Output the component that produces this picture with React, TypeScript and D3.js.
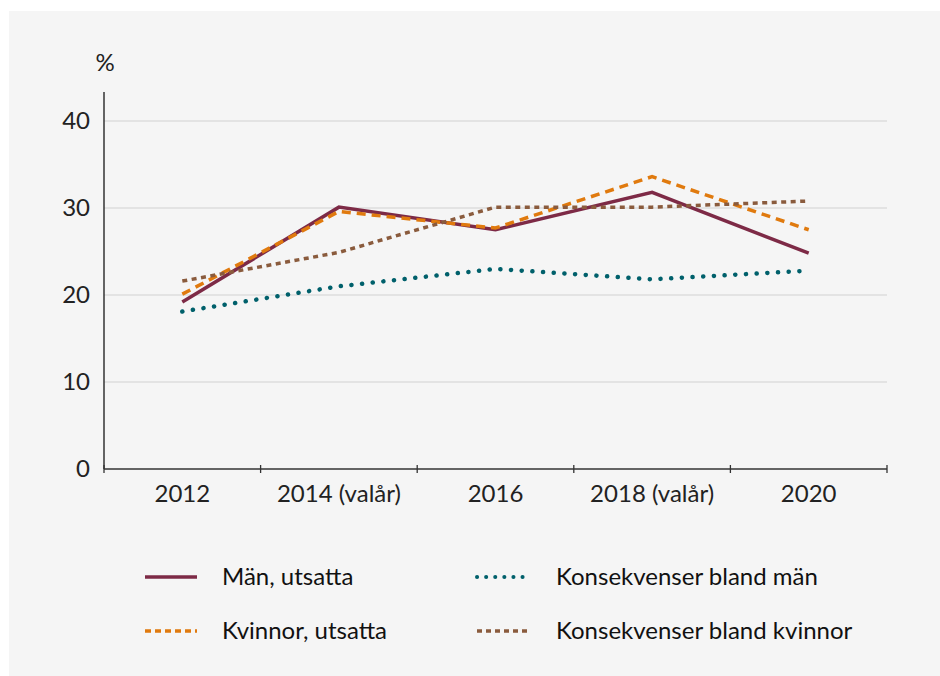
import React, { useRef, useEffect } from "react";
import * as d3 from "d3";

const years = ["2012", "2014 (valår)", "2016", "2018 (valår)", "2020"];
const menExposed = [19.2, 30.1, 27.5, 31.8, 24.8];
const womenExposed = [20.1, 29.6, 27.7, 33.6, 27.5];
const consequencesMen = [18.1, 21.0, 23.0, 21.8, 22.8];
const consequencesWomen = [21.6, 24.9, 30.1, 30.1, 30.8];
const yTicks = [0, 10, 20, 30, 40];

const series = [
  { name: "Män, utsatta", values: menExposed, color: "#7d2a46", width: 3.5, dash: null, cap: "butt", legendDash: null },
  { name: "Kvinnor, utsatta", values: womenExposed, color: "#e07a0e", width: 3.5, dash: "9 6", cap: "butt", legendDash: "6 4" },
  { name: "Konsekvenser bland män", values: consequencesMen, color: "#00606b", width: 4.5, dash: "0.1 10.6", cap: "round", legendDash: "0.1 9" },
  { name: "Konsekvenser bland kvinnor", values: consequencesWomen, color: "#8a5b3d", width: 3.5, dash: "5 4.5", cap: "butt", legendDash: "5 4" },
];

const FONT = "Lato, sans-serif";
const FS = 24;

const App = () => {
  const xAxisRef = useRef(null);
  const left = 104, right = 887, top = 92, bottom = 469;

  const x = d3.scaleBand().domain(years).range([left, right]);
  const y = d3.scaleLinear().domain([0, 40]).range([bottom, 121]);

  const line = d3.line<number>()
    .x((d, i) => x(years[i]) + x.bandwidth() / 2)
    .y(d => y(d));

  useEffect(() => {
    const g = d3.select(xAxisRef.current);
    const axis = d3.axisBottom(x).tickSize(4).tickSizeOuter(0).tickPadding(12);
    g.call(axis);
    g.select(".domain").remove();
    // ticks sit on band edges, not centres
    g.selectAll(".tick line")
      .attr("x1", x.bandwidth() / 2).attr("x2", x.bandwidth() / 2)
      .attr("y1", -4).attr("y2", 4)
      .attr("stroke", "#333").attr("stroke-width", 1.3);
    g.selectAll(".tick text")
      .attr("font-family", FONT).attr("font-size", FS).attr("fill", "#222");
  }, []);

  return (
    <svg width={940} height={676} style={{ position: "absolute", left: 0, top: 0 }}>
      <rect x={0} y={0} width={940} height={676} fill="#fff" />
      <rect x={9} y={11} width={931} height={665} fill="#f5f5f5" />

      <text x={105} y={71} textAnchor="middle" fontFamily={FONT} fontSize={FS} fill="#222">%</text>

      {yTicks.filter(t => t > 0).map(t => (
        <line key={t} x1={left} x2={right} y1={y(t)} y2={y(t)} stroke="#d2d2d2" strokeWidth={1.2} />
      ))}
      {yTicks.map(t => (
        <text key={t} x={90} y={y(t)} dy="0.35em" textAnchor="end" fontFamily={FONT} fontSize={FS} fill="#222">{t}</text>
      ))}

      <line x1={left} x2={left} y1={top} y2={bottom} stroke="#333" strokeWidth={1.5} />
      <line x1={left} x2={right} y1={bottom} y2={bottom} stroke="#333" strokeWidth={1.5} />
      <line x1={left} x2={left} y1={bottom - 4} y2={bottom + 4} stroke="#333" strokeWidth={1.3} />
      <g ref={xAxisRef} transform={`translate(0,${bottom})`} />

      {series.map(s => (
        <path key={s.name} d={line(s.values)} fill="none" stroke={s.color} strokeWidth={s.width}
          strokeDasharray={s.dash ?? undefined} strokeLinecap={s.cap} strokeLinejoin="miter" />
      ))}

      {series.map((s, i) => {
        const lx = i < 2 ? 145 : 477;
        const ly = i % 2 === 0 ? 577 : 631;
        return (
          <g key={s.name}>
            <line x1={lx} x2={lx + 52} y1={ly} y2={ly} stroke={s.color}
              strokeWidth={i === 2 ? 4 : 3.5} strokeDasharray={s.legendDash ?? undefined}
              strokeLinecap={s.cap} />
            <text x={i < 2 ? 222 : 556} y={ly} dy="0.35em" fontFamily={FONT} fontSize={FS} fill="#111">{s.name}</text>
          </g>
        );
      })}
    </svg>
  );
};

export default App;
